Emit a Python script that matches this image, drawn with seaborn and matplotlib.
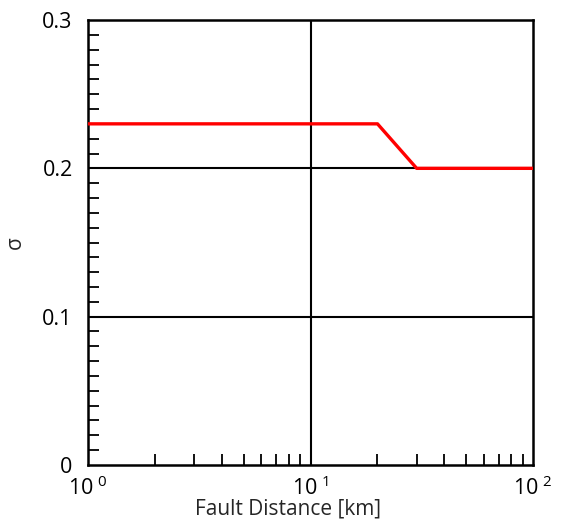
import numpy as np
import pandas as pd
import matplotlib
matplotlib.use('Agg')
import matplotlib.pyplot as plt
from matplotlib.ticker import FixedLocator, LogLocator, MultipleLocator, NullFormatter
import seaborn as sns

# data
distance_km = [1, 20, 30, 100]
sigma = [0.23, 0.23, 0.20, 0.20]
x_major = [1, 10, 100]
x_labels = ['10$^{\\ 0}$', '10$^{\\ 1}$', '10$^{\\ 2}$']
y_major = [0, 0.1, 0.2, 0.3]
y_labels = ['0', '0.1', '0.2', '0.3']

df = pd.DataFrame({'distance': distance_km, 'sigma': sigma})

sns.set_theme(style='white')
plt.rcParams['font.family'] = ['Open Sans', 'DejaVu Sans']
plt.rcParams['mathtext.default'] = 'regular'

fig = plt.figure(figsize=(5.61, 5.20), dpi=100)
ax = fig.add_axes([0.1569, 0.1058, 0.7932, 0.8557])

# grid lines at major ticks only
for xv in x_major[1:-1]:
    ax.axvline(xv, color='black', lw=1.5, zorder=1)
for yv in y_major[1:-1]:
    ax.axhline(yv, color='black', lw=1.5, zorder=1)

sns.lineplot(data=df, x='distance', y='sigma', color='#ff0000', lw=2.4, ax=ax, zorder=3)

ax.set_xscale('log')
ax.set_xlim(1, 100)
ax.set_ylim(0, 0.3)

ax.xaxis.set_major_locator(FixedLocator(x_major))
ax.set_xticklabels(x_labels)
ax.xaxis.set_minor_locator(LogLocator(base=10, subs=np.arange(2, 10)))
ax.xaxis.set_minor_formatter(NullFormatter())
ax.set_yticks(y_major)
ax.set_yticklabels(y_labels)
ax.yaxis.set_minor_locator(MultipleLocator(0.01))

ax.tick_params(axis='both', which='both', direction='in', colors='black',
               bottom=True, left=True, top=False, right=False)
ax.tick_params(which='minor', length=8, width=1.3)
ax.tick_params(which='major', length=0, labelsize=15.5)
ax.tick_params(axis='x', which='major', pad=8)
ax.tick_params(axis='y', which='major', pad=11)

for s in ax.spines.values():
    s.set_color('black')
    s.set_linewidth(1.8)

ax.set_xlabel('Fault Distance [km]', fontsize=15, va='center')
ax.xaxis.set_label_coords(0.449, -0.098)
ax.set_ylabel('σ', fontsize=15, labelpad=12)

fig.savefig('out.png', dpi=100)
